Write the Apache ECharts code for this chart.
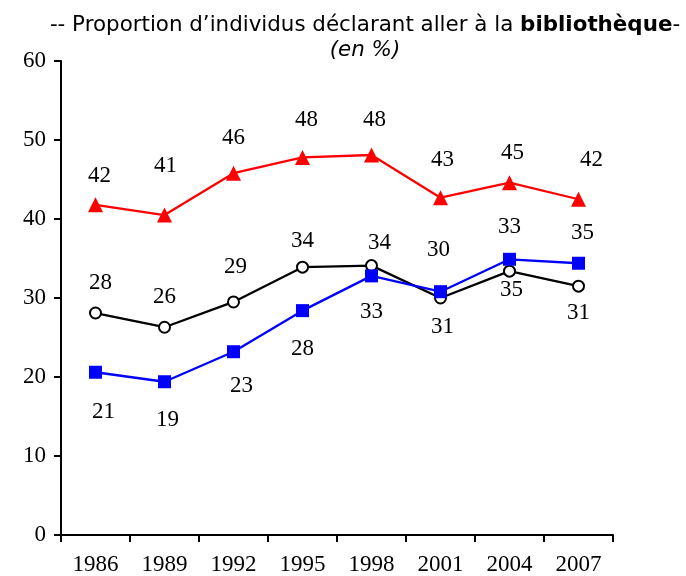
<!DOCTYPE html>
<html>
<head>
<meta charset="utf-8">
<script src="https://cdn.jsdelivr.net/npm/echarts@6/dist/echarts.min.js"></script>
<style>
  html, body { margin: 0; padding: 0; background: #fff; }
  #chart { width: 686px; height: 576px; }
</style>
</head>
<body>
<div id="chart"></div>
<script>
// data
var years = ["1986", "1989", "1992", "1995", "1998", "2001", "2004", "2007"];
var redValues = [41.8, 40.5, 45.8, 47.8, 48.1, 42.7, 44.6, 42.5];
var blackValues = [28.1, 26.3, 29.5, 33.9, 34.1, 30.0, 33.4, 31.5];
var blueValues = [20.6, 19.4, 23.2, 28.4, 32.8, 30.8, 34.9, 34.4];
var redLabels = ["42", "41", "46", "48", "48", "43", "45", "42"];
var blackLabels = ["28", "26", "29", "34", "34", "30", "33", "31"];
var blueLabels = ["21", "19", "23", "28", "33", "31", "35", "35"];

// where each value label sits around its point (moved by hand in the original)
var redOffsets = [[4, -29], [1, -49], [0, -35], [4, -37], [3, -35], [2, -38], [3, -30], [13, -39]];
var blackOffsets = [[5, -30], [0, -30], [2, -35], [0, -26], [8, -23], [-2, -48], [0, -44], [0, 27]];
var blueOffsets = [[8, 40], [3, 38], [8, 34], [0, 38], [0, 36], [2, 35], [2, 31], [4, -30]];

var serif = "Liberation Serif";
var numSize = 23;

function buildData(values, labels, offsets) {
  return values.map(function (v, i) {
    return {
      value: v,
      label: { formatter: labels[i], offset: offsets[i] },
    };
  });
}

var myChart = echarts.init(document.getElementById("chart"));

var titleFont = { fontFamily: "DejaVu Sans", fontSize: 21.4, color: "#000", lineHeight: 25 };

var option = {
  animation: false,
  title: {
    left: 360,
    top: 8,
    textAlign: "center",
    text: "{n|-- Proportion d\u2019individus déclarant aller à la }{b|bibliothèque}{n|-}\n{i|(en %)}",
    textStyle: {
      fontWeight: "normal",
      rich: {
        n: Object.assign({ fontWeight: "normal" }, titleFont),
        b: Object.assign({ fontWeight: "bold" }, titleFont),
        i: Object.assign({ fontWeight: "normal", fontStyle: "italic" }, titleFont),
      },
    },
  },
  grid: {
    left: 61,
    right: 73,
    top: 61,
    bottom: 41,
    containLabel: false,
  },
  xAxis: {
    type: "category",
    data: years,
    boundaryGap: true,
    axisLine: { lineStyle: { color: "#000", width: 2 } },
    axisTick: { show: true, length: 7, lineStyle: { color: "#000", width: 2 } },
    axisLabel: { color: "#000", fontFamily: serif, fontSize: numSize, margin: 18 },
    splitLine: { show: false },
  },
  yAxis: {
    type: "value",
    min: 0,
    max: 60,
    interval: 10,
    axisLine: { show: true, lineStyle: { color: "#000", width: 2 } },
    axisTick: { show: true, length: 7, lineStyle: { color: "#000", width: 2 } },
    axisLabel: { color: "#000", fontFamily: serif, fontSize: numSize, margin: 15 },
    splitLine: { show: false },
  },
  series: [
    {
      name: "red",
      type: "line",
      data: buildData(redValues, redLabels, redOffsets),
      symbol: "triangle",
      symbolSize: 15,
      itemStyle: { color: "#ff0000" },
      lineStyle: { color: "#ff0000", width: 2.3 },
      label: { show: true, position: "inside", color: "#000", fontFamily: serif, fontSize: numSize },
    },
    {
      name: "black",
      type: "line",
      data: buildData(blackValues, blackLabels, blackOffsets),
      symbol: "circle",
      symbolSize: 11,
      itemStyle: { color: "#fff", borderColor: "#000", borderWidth: 2 },
      lineStyle: { color: "#000", width: 2.3 },
      label: { show: true, position: "inside", color: "#000", fontFamily: serif, fontSize: numSize },
    },
    {
      name: "blue",
      type: "line",
      data: buildData(blueValues, blueLabels, blueOffsets),
      symbol: "rect",
      symbolSize: 13,
      itemStyle: { color: "#0000ff" },
      lineStyle: { color: "#0000ff", width: 2.3 },
      label: { show: true, position: "inside", color: "#000", fontFamily: serif, fontSize: numSize },
    },
  ],
};

myChart.setOption(option);
</script>
</body>
</html>
